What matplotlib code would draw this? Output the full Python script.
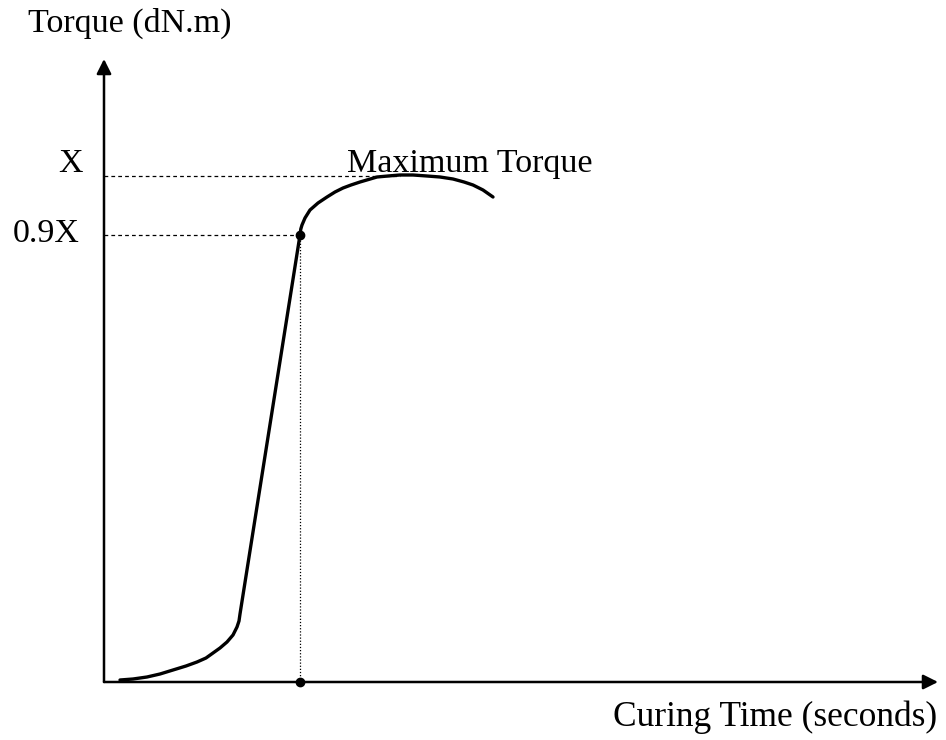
import matplotlib.pyplot as plt

# --- data (time and torque in arbitrary units) ---
cure_time = [3.2, 5.8, 8.6, 11.2, 13.8, 16.4, 18.6, 20.4, 21.8, 23.2, 24.6,
             25.8, 26.6, 27.0, 27.2,
             39.2, 39.36, 39.6, 40.2, 41.2, 42.8, 44.6, 46.2, 47.8, 49.4,
             51.2, 54.6, 56.8, 59.2, 61.8, 64.6, 67.2, 69.8, 72.0, 73.8,
             75.8, 77.8]
torque = [0.04, 0.06, 0.10, 0.16, 0.24, 0.32, 0.40, 0.48, 0.58, 0.68, 0.80,
          0.94, 1.10, 1.22, 1.36,
          8.94, 9.06, 9.14, 9.28, 9.44, 9.58, 9.70, 9.80, 9.88, 9.94,
          10.00, 10.10, 10.12, 10.14, 10.14, 10.12, 10.10, 10.06, 10.00, 9.94,
          9.84, 9.70]

max_torque = 10.12      # X
t90_torque = 8.94       # 0.9X
t90_time = 39.2
peak_time = 59.2

x_end = 166.8
y_end = 12.46

# --- figure ---
plt.rcParams['font.family'] = ['Liberation Serif', 'DejaVu Serif']
fig = plt.figure(figsize=(9.46, 7.4), dpi=100)
ax = fig.add_axes([0, 0, 1, 1])
ax.set_xlim(-20.8, 168.4)
ax.set_ylim(-1.16, 13.64)
ax.axis('off')

# axes with arrow heads
ax.annotate('', xy=(x_end, 0), xytext=(0, 0),
            arrowprops=dict(arrowstyle='-|>', color='black', lw=1.8,
                            mutation_scale=22, shrinkA=0, shrinkB=0))
ax.annotate('', xy=(0, y_end), xytext=(0, 0),
            arrowprops=dict(arrowstyle='-|>', color='black', lw=1.8,
                            mutation_scale=22, shrinkA=0, shrinkB=0))

# guide lines
ax.plot([0, peak_time], [max_torque, max_torque], color='black', lw=0.9,
        ls=(0, (3, 2.5)))
ax.plot([0, t90_time], [t90_torque, t90_torque], color='black', lw=0.9,
        ls=(0, (3, 2.5)))
ax.plot([t90_time, t90_time], [0, t90_torque], color='black', lw=0.9,
        ls=(0, (1, 1.5)))

# cure curve
ax.plot(cure_time, torque, color='black', lw=2.4, solid_capstyle='round',
        solid_joinstyle='round')
ax.plot([t90_time, t90_time], [t90_torque, 0], 'o', color='black', ms=6)

# labels
fs = 24.5
ax.text(-15.2, 13.0, 'Torque (dN.m)', fontsize=fs, va='baseline', ha='left')
ax.text(-4.2, 10.2, 'X', fontsize=fs, va='baseline', ha='right')
ax.text(-4.8, 8.8, '0.9X', fontsize=fs, va='baseline', ha='right')
ax.text(48.6, 10.2, 'Maximum Torque', fontsize=fs, va='baseline', ha='left')
ax.text(166.6, -0.88, 'Curing Time (seconds)', fontsize=25.5, va='baseline',
        ha='right')

fig.savefig('out.png', dpi=100)
